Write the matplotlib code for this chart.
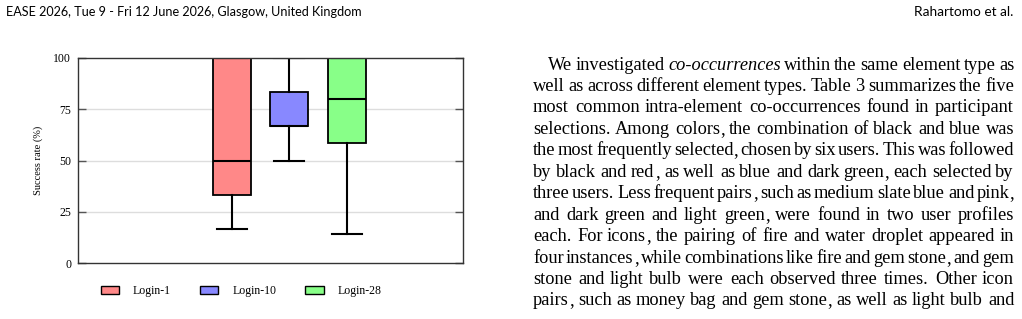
import matplotlib
matplotlib.use("Agg")
import matplotlib.pyplot as plt
from matplotlib.patches import Patch

# box plot data (success rate, %)
labels = ["Login-1", "Login-10", "Login-28"]
whislo = [16.7, 50.0, 14.3]
q1 = [33.3, 66.7, 58.6]
med = [50.0, 66.7, 80.0]
q3 = [100.0, 83.3, 100.0]
whishi = [100.0, 100.0, 100.0]
colors = ["#ff8888", "#8888ff", "#88ff88"]
yticks = [0, 25, 50, 75, 100]

header_left = "EASE 2026, Tue 9 - Fri 12 June 2026, Glasgow, United Kingdom"
header_right = "Rahartomo et al."
paragraph = [
    "We investigated *co-occurrences* within the same element type as",
    "well as across different element types. Table 3 summarizes the five",
    "most common intra-element co-occurrences found in participant",
    "selections. Among colors, the combination of black and blue was",
    "the most frequently selected, chosen by six users. This was followed",
    "by black and red, as well as blue and dark green, each selected by",
    "three users. Less frequent pairs, such as medium slate blue and pink,",
    "and dark green and light green, were found in two user profiles",
    "each. For icons, the pairing of fire and water droplet appeared in",
    "four instances, while combinations like fire and gem stone, and gem",
    "stone and light bulb were each observed three times. Other icon",
    "pairs, such as money bag and gem stone, as well as light bulb and",
]

W, H = 1022, 319
fig = plt.figure(figsize=(W / 100, H / 100), dpi=100)
serif = "Liberation Serif"

# --- chart ---
ax = fig.add_axes([78 / W, 1 - 263 / H, 385 / W, 205 / H])
stats = []
for i in range(len(labels)):
    stats.append(dict(label=labels[i], whislo=whislo[i], q1=q1[i], med=med[i],
                      q3=q3[i], whishi=whishi[i], fliers=[]))
positions = [1, 2, 3]
bp = ax.bxp(stats, positions=positions, widths=0.66, capwidths=0.52,
            patch_artist=True, showfliers=False,
            boxprops=dict(linewidth=1.3, edgecolor="black"),
            whiskerprops=dict(linewidth=1.5, color="black"),
            capprops=dict(linewidth=1.5, color="black"),
            medianprops=dict(linewidth=1.5, color="black"))
for patch, c in zip(bp["boxes"], colors):
    patch.set_facecolor(c)

ax.set_xlim(-1.668, 5.014)
ax.set_ylim(0, 100)
ax.set_yticks(yticks)
ax.set_yticklabels([str(t) for t in yticks], fontfamily=serif, fontsize=8.5)
ax.set_xticks([])
ax.tick_params(axis="y", direction="in", length=6, width=1, color="#555555",
               right=True, pad=5)
for g in yticks[1:-1]:
    ax.axhline(g, color="#dddddd", linewidth=1, zorder=0)
for s in ax.spines.values():
    s.set_linewidth(1)
    s.set_color("#333333")
ax.set_ylabel("Success rate (%)", fontfamily=serif, fontsize=7.5)
ax.yaxis.set_label_coords(-0.09, 0.5)

handles = [Patch(facecolor=c, edgecolor="black", linewidth=1) for c in colors]
fig.legend(handles, labels, loc="center left", bbox_to_anchor=(90 / W, 1 - 291 / H),
           ncol=3, frameon=False, prop=dict(family=serif, size=8.5),
           handlelength=1.55, handleheight=0.65, handletextpad=1.2, columnspacing=2.45)

# --- page text ---
fig.text(6 / W, 1 - 12 / H, header_left, fontfamily="Lato",
         fontsize=9.1, va="center", ha="left")
fig.text(1013 / W, 1 - 12 / H, header_right, fontfamily="Lato",
         fontsize=9.8, va="center", ha="right")

renderer = fig.canvas.get_renderer()
col_left, col_right = 533, 1014
indent = 15
fs = 13.2


def word_width(word, style):
    # measure with a throwaway text, removed right after
    t = fig.text(0, 0, word, fontfamily=serif, fontsize=fs, style=style)
    wd = t.get_window_extent(renderer).width
    t.remove()
    return wd


for li, line in enumerate(paragraph):
    words = []
    for w in line.split(" "):
        if w.startswith("*") and w.endswith("*"):
            words.append((w.strip("*"), "italic"))
        else:
            words.append((w, "normal"))
    widths = [word_width(w, s) for w, s in words]
    base_y = round(69.5 + 21.45 * li)
    x0 = col_left + (indent if li == 0 else 0)
    gap = (col_right - x0 - sum(widths)) / (len(words) - 1)
    x = x0
    y = 1 - base_y / H
    for (w, s), wd in zip(words, widths):
        if w.endswith(","):
            # trailing comma drawn on its own so the word keeps the line's baseline;
            # it is placed right against the ink of the word
            stem = w[:-1]
            fig.text(round(x) / W, y, stem, fontfamily=serif, fontsize=fs,
                     style=s, va="baseline", ha="left")
            fig.text(round(x + word_width(stem, s)) / W, y, ",", fontfamily=serif,
                     fontsize=fs, va="baseline", ha="left")
        else:
            fig.text(round(x) / W, y, w, fontfamily=serif, fontsize=fs,
                     style=s, va="baseline", ha="left")
        x += wd + gap

fig.savefig("out.png", dpi=100)
